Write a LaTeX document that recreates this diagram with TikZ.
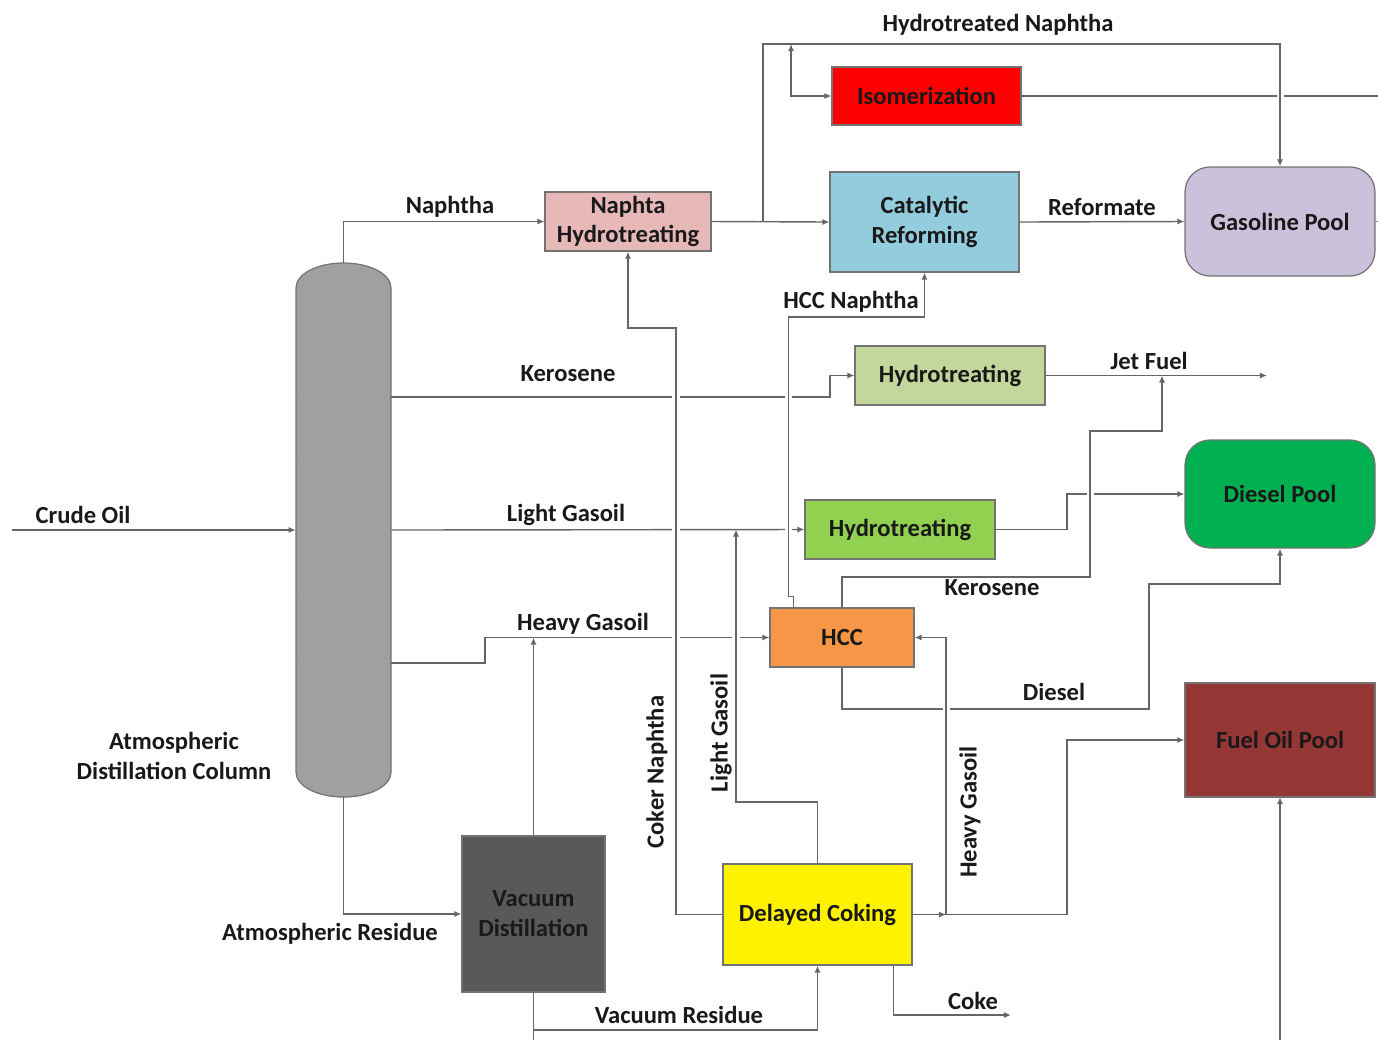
\documentclass[tikz,border=0pt]{standalone}
\usepackage{fontspec}
\setmainfont{Carlito}
\usetikzlibrary{arrows.meta}

\definecolor{colgray}{HTML}{A0A0A0}
\definecolor{nhtpink}{HTML}{E6B9B8}
\definecolor{reformblue}{HTML}{93CDDD}
\definecolor{poolviolet}{HTML}{CCC1DA}
\definecolor{htlight}{HTML}{C3D69B}
\definecolor{htgreen}{HTML}{92D050}
\definecolor{dieselgreen}{HTML}{00B050}
\definecolor{hccorange}{HTML}{F79646}
\definecolor{fuelred}{HTML}{953735}
\definecolor{vacgray}{HTML}{595959}

\begin{document}
\begin{tikzpicture}[x=0.02cm, y=-0.02cm,
  unit/.style={draw=black!55, line width=0.7pt, font=\fontsize{14}{17}\selectfont\bfseries, align=center, inner sep=0pt, text=black!90},
  pool/.style={unit, rounded corners=0.5cm},
  pipe/.style={draw=black!60, line width=0.8pt},
  flow/.style={pipe, -{Latex[length=4pt,width=3.5pt]}},
  hop/.style={preaction={draw=white, line width=4pt, -}},
  lbl/.style={font=\fontsize{14}{17}\selectfont\bfseries, align=center, inner sep=1pt, text=black!90}]
\useasboundingbox (0,0) rectangle (1378,1039);
\clip (0,0) rectangle (1378,1039);

% column body
\node[minimum width=1.9cm, minimum height=10.68cm, inner sep=0pt] (ADC) at (343.5,530) {};
\draw[draw=black!55, fill=colgray, line width=0.7pt] (296,288) -- (296,772) .. controls (296,786) and (317,797) .. (343.5,797) .. controls (370,797) and (391,786) .. (391,772) -- (391,288) .. controls (391,274) and (370,263) .. (343.5,263) .. controls (317,263) and (296,274) .. (296,288) -- cycle;
\foreach \y in {397,463,597,663}
  \draw[densely dotted, black!40] (296,\y) -- (391,\y);

\coordinate (crude) at (12,530);
\coordinate (kero) at (391,397);
\coordinate (hgo) at (391,663);
\coordinate (tee1) at (763,221.5);
\coordinate (tee2) at (791,44);
\coordinate (jet) at (1267,375.5);
\coordinate (hgo2) at (946,914.5);

% units
\path (628,221.5) node[unit, fill=nhtpink, minimum width=3.32cm, minimum height=1.18cm] (NHT) {Naphta\\Hydrotreating};
\path (926.5,96) node[unit, fill=red, minimum width=3.78cm, minimum height=1.16cm] (ISO) {Isomerization};
\path (924.5,222) node[unit, fill=reformblue, minimum width=3.78cm, minimum height=2cm] (CR) {Catalytic\\Reforming};
\path (1280,221.5) node[pool, fill=poolviolet, minimum width=3.8cm, minimum height=2.18cm] (GP) {Gasoline Pool};
\path (950,375.5) node[unit, fill=htlight, minimum width=3.8cm, minimum height=1.18cm] (HT1) {Hydrotreating};
\path (900,529.5) node[unit, fill=htgreen, minimum width=3.8cm, minimum height=1.18cm] (HT2) {Hydrotreating};
\path (1280,494) node[pool, fill=dieselgreen, minimum width=3.8cm, minimum height=2.16cm] (DP) {Diesel Pool};
\path (842,637.5) node[unit, fill=hccorange, minimum width=2.88cm, minimum height=1.18cm] (HCC) {HCC};
\path (1280,740) node[unit, fill=fuelred, minimum width=3.8cm, minimum height=2.26cm] (FOP) {Fuel Oil Pool};
\path (533.5,914) node[unit, fill=vacgray, minimum width=2.86cm, minimum height=3.12cm] (VD) {Vacuum\\Distillation};
\path (817.5,914.5) node[unit, fill=yellow, minimum width=3.78cm, minimum height=2.02cm] (DC) {Delayed Coking};

% streams
\draw[flow] (crude) -- (ADC.west);
\draw[flow] (ADC.north) |- (NHT.west);
\draw[flow] (kero) -- ++(439,0) |- (HT1.west);
\draw[flow] (hgo) -- ++(94,0) |- (HCC.west);
\draw[flow, hop] (DC.north) |- (736,802) -- (736,529.5);
\draw[flow] (ADC.east) -- (HT2.west);
\draw[flow, hop] (DC.west) -- (676,914.5) |- (628,328) -- (NHT.south);
\draw[flow, hop] ([xshift=0.48cm]HCC.north west) -- ++(0,-11) -- ++(-5,0) |- (924.5,317) -- (CR.south);
\draw[flow] (ADC.south) |- (VD.west);
\draw[flow] (VD.north) -- (533.5,637.5);
\draw[pipe] (VD.south) -- (533.5,1045);
\draw[flow] (533.5,1030) -| (DC.south);
\draw[flow] ([xshift=-0.38cm]DC.south east) |- (1011,1015);

\draw[flow] (ISO.east) -- (1400,96) |- (GP.east);
\draw[flow, hop] (tee1) |- (tee2) -| (GP.north);
\draw[flow] (NHT.east) -- (CR.west);
\draw[{Latex[length=4pt,width=3.5pt]}-{Latex[length=4pt,width=3.5pt]}, pipe] (tee2) |- (ISO.west);
\draw[flow] (CR.east) -- (GP.west);

\draw[flow] (HT2.east) -- (1067,529.5) |- (DP.west);
\draw[flow, hop] (HCC.north) |- (1090,577) |- (1162,431) -- (1162,375.5);
\draw[flow] (HT1.east) -- (jet);
\draw[flow] (HCC.south) |- (1149,709) |- (1280,584) -- (DP.south);
\draw[flow, hop] (hgo2) |- (HCC.east);
\draw[flow] (DC.east) -- (hgo2);
\draw[flow] (hgo2) -- (1067,914.5) |- (FOP.west);
\draw[flow] (1280,1045) -- (FOP.south);

% redraw units on top of the pipe gaps
\foreach \n in {NHT,ISO,CR,HT1,HT2,HCC,FOP,VD,DC}
  \draw[draw=black!55, line width=0.7pt] (\n.north west) rectangle (\n.south east);

% labels
\node[lbl] (lnaph) at (450,207) {Naphtha};
\node[lbl] (lhtn) at (998,25) {Hydrotreated Naphtha};
\node[lbl] (lref) at (1102,207) {Reformate};
\node[lbl] (lhccn) at (851,302) {HCC Naphtha};
\node[lbl] (lkero) at (568,374) {Kerosene};
\node[lbl] (ljet) at (1149,361) {Jet Fuel};
\node[lbl] (lcrude) at (83,515) {Crude Oil};
\node[lbl] (llgo) at (566,515) {Light Gasoil};
\node[lbl] (lhgo) at (583,624) {Heavy Gasoil};
\node[lbl] (lkero2) at (992,588) {Kerosene};
\node[lbl] (ldies) at (1054,692) {Diesel};
\node[lbl] (ladc) at (174,756) {Atmospheric\\Distillation Column};
\node[lbl] (lar) at (330,934) {Atmospheric Residue};
\node[lbl] (lvr) at (679,1015) {Vacuum Residue};
\node[lbl] (lcoke) at (973,1001) {Coke};
\node[lbl, rotate=90] (lckn) at (657,772) {Coker Naphtha};
\node[lbl, rotate=90] (llgo2) at (721,733) {Light Gasoil};
\node[lbl, rotate=90] (lhgo2) at (970,812) {Heavy Gasoil};
\end{tikzpicture}
\end{document}
